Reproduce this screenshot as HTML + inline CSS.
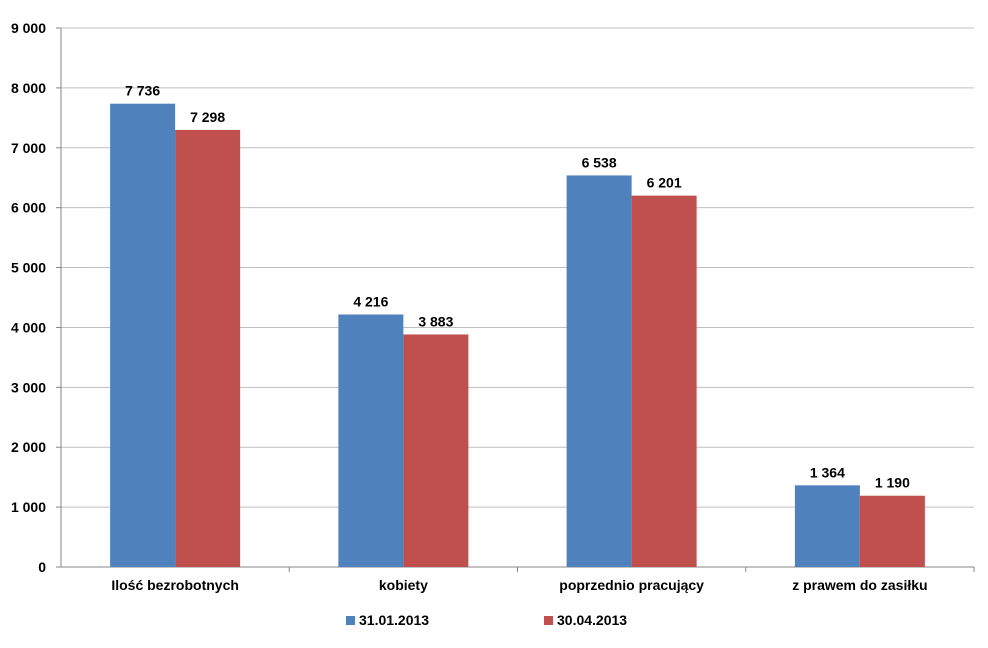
<!DOCTYPE html>
<html><head><meta charset="utf-8"><style>
body{margin:0;background:#fff;font-family:"Liberation Sans",Arial,sans-serif}
svg text{font-family:"Liberation Sans",Arial,sans-serif;font-weight:bold;font-size:14px;fill:#000}
</style></head><body>
<svg id="chart" width="988" height="643"></svg>
<script>
const categories=["Ilość bezrobotnych","kobiety","poprzednio pracujący","z prawem do zasiłku"];
const series1=[7736,4216,6538,1364];
const series2=[7298,3883,6201,1190];
const seriesNames=["31.01.2013","30.04.2013"];
const yTicks=[0,1000,2000,3000,4000,5000,6000,7000,8000,9000];
const colors=["#4f81bd","#c0504d"];
const svg=document.getElementById('chart');
const NS="http://www.w3.org/2000/svg";
const L=61,R=974,T=28,B=567,yMax=9000;
const y=v=>B-(v/yMax)*(B-T);
const gw=(R-L)/categories.length, bw=65;
const fmt=v=>String(v).replace(/\B(?=(\d{3})+(?!\d))/g," ");
function mk(tag,attrs,txt){const e=document.createElementNS(NS,tag);for(const k in attrs)e.setAttribute(k,attrs[k]);if(txt!==undefined)e.textContent=txt;svg.appendChild(e);return e;}
yTicks.forEach(t=>{
 const g=mk('line',{x1:L,x2:R,y1:y(t),y2:y(t),stroke:t===0?'#868686':'#bfbfbf','stroke-width':1});
 
 
 const lb=mk('text',{x:46,y:y(t)+5,'text-anchor':'end'},fmt(t));
 
 
 const tk=mk('line',{x1:L-5,x2:L,y1:y(t),y2:y(t),stroke:'#868686'});
 
 
});
const ax=mk('line',{x1:L,x2:L,y1:T,y2:B,stroke:'#868686'});


[series1,series2].forEach((s,si)=>{
 s.forEach((v,i)=>{
  const cx=L+gw*(i+0.5);
  const x=cx-bw+si*bw;
  const r=mk('rect',{x:x,y:y(v),width:bw,height:B-y(v),fill:colors[si]});
  
  
  const t=mk('text',{x:x+bw/2,y:y(v)-8,'text-anchor':'middle'},fmt(v));
  
  
 });
});
categories.forEach((c,i)=>{
 const t=mk('text',{x:L+gw*(i+0.5),y:590,'text-anchor':'middle'},c);
 
 
 const tk=mk('line',{x1:L+gw*(i+1),x2:L+gw*(i+1),y1:B,y2:B+5,stroke:'#868686'});
 
 
});
const lx=[346,544];
seriesNames.forEach((n,i)=>{
 const r=mk('rect',{x:lx[i],y:616,width:9,height:9,fill:colors[i]});
 
 
 const t=mk('text',{x:lx[i]+13,y:625},n);
 
 
});
</script>
</body></html>
